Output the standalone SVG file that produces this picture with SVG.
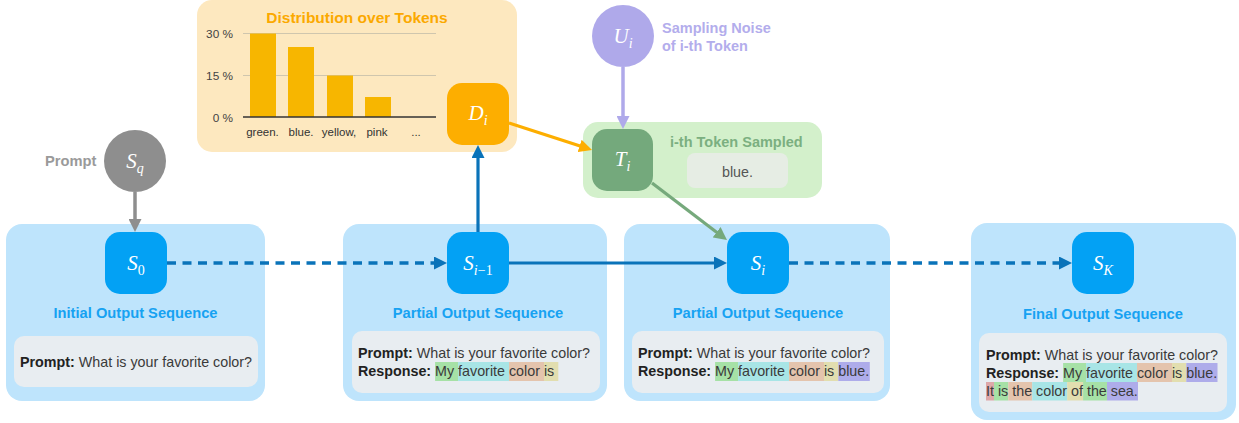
<svg xmlns="http://www.w3.org/2000/svg" width="1239" height="423" viewBox="0 0 1239 423">
<style>
text{font-family:"Liberation Sans",Arial,sans-serif}
.panel{fill:#BEE4FC}
.node{fill:#03A1F4}
.inner{fill:#E8EDF1}
.title{font-size:14.7px;font-weight:bold;fill:#17A2F2;text-anchor:middle}
.body{font-size:14.3px;fill:#3a3a3a}
.b{font-weight:bold;fill:#222}
.math{font-family:"Liberation Serif","Times New Roman",serif;font-style:italic;font-size:21px;fill:#fff;text-anchor:middle}
.sub{font-size:14px}
.up{font-style:normal}
.axis{font-size:11.8px;fill:#444}
.tick{font-size:11.5px;fill:#333;text-anchor:middle}
.bar{fill:#F7B600}
.grid{stroke:#CFC6AE;stroke-width:1.2}
.hg{fill:#A6E1A6}.hc{fill:#A8E5E6}.ht{fill:#E4C4AD}.hk{fill:#E2DEAF}.hp{fill:#AEACEA}.hr{fill:#DDA8A9}
</style>
<defs>
<marker id="ab" viewBox="0 0 13 13" refX="7" refY="6.5" markerWidth="13" markerHeight="13" markerUnits="userSpaceOnUse" orient="auto"><path d="M0,0L13,6.5L0,13z" fill="#0A73B9"/></marker>
<marker id="ag" viewBox="0 0 13 13" refX="7" refY="6.5" markerWidth="13" markerHeight="13" markerUnits="userSpaceOnUse" orient="auto"><path d="M0,0L13,6.5L0,13z" fill="#8E8E8E"/></marker>
<marker id="ap" viewBox="0 0 13 13" refX="7" refY="6.5" markerWidth="13" markerHeight="13" markerUnits="userSpaceOnUse" orient="auto"><path d="M0,0L13,6.5L0,13z" fill="#AFA9EA"/></marker>
<marker id="ao" viewBox="0 0 13 13" refX="7" refY="6.5" markerWidth="13" markerHeight="13" markerUnits="userSpaceOnUse" orient="auto"><path d="M0,0L13,6.5L0,13z" fill="#FDAE00"/></marker>
<marker id="agr" viewBox="0 0 13 13" refX="7" refY="6.5" markerWidth="13" markerHeight="13" markerUnits="userSpaceOnUse" orient="auto"><path d="M0,0L13,6.5L0,13z" fill="#76A97C"/></marker>
</defs>
<rect width="1239" height="423" fill="#fff"/>

<!-- distribution panel -->
<g id="distribution">
<rect x="197" y="0" width="320" height="152" rx="15" fill="#FDE8BF"/>
<text x="357" y="23" font-size="15.5" font-weight="bold" fill="#FBA900" text-anchor="middle">Distribution over Tokens</text>
<line class="grid" x1="243" y1="33.5" x2="436" y2="33.5"/>
<line class="grid" x1="243" y1="75.5" x2="436" y2="75.5"/>
<rect class="bar" x="250" y="33.5" width="26" height="83.5"/>
<rect class="bar" x="288" y="47" width="26" height="70"/>
<rect class="bar" x="327" y="75.5" width="26" height="41.5"/>
<rect class="bar" x="365" y="97" width="26" height="20"/>
<line x1="243" y1="117" x2="436" y2="117" stroke="#333" stroke-width="1.3"/>
<text class="axis" x="233" y="38" text-anchor="end">30 %</text>
<text class="axis" x="233" y="80" text-anchor="end">15 %</text>
<text class="axis" x="233" y="122" text-anchor="end">0 %</text>
<text class="tick" x="262.5" y="136">green.</text>
<text class="tick" x="301" y="136">blue.</text>
<text class="tick" x="339" y="136">yellow,</text>
<text class="tick" x="377" y="136">pink</text>
<text class="tick" x="416" y="136">...</text>
</g>

<!-- sampled token panel -->
<g id="sampled">
<rect x="583" y="122" width="239" height="76" rx="15" fill="#D3F0CB"/>
<text x="670" y="147" font-size="14.5" font-weight="bold" fill="#7BAF80">i-th Token Sampled</text>
<rect x="687" y="153" width="101" height="35" rx="8" fill="#E6EDE4"/>
<text x="737.5" y="177" font-size="14.3" fill="#555" text-anchor="middle">blue.</text>
</g>

<!-- blue panels -->
<g id="panel-initial">
<rect class="panel" x="6" y="224" width="259" height="177" rx="16"/>
<text class="title" x="135.5" y="318">Initial Output Sequence</text>
<rect class="inner" x="14" y="336" width="244" height="51" rx="10"/>
<text class="body" x="20" y="367"><tspan class="b">Prompt:</tspan> What is your favorite color?</text>
</g>
<g id="panel-partial-prev">
<rect class="panel" x="343" y="224" width="264" height="177" rx="16"/>
<text class="title" x="478" y="318">Partial Output Sequence</text>
<rect class="inner" x="352" y="331" width="248" height="62" rx="10"/>
<rect class="hg" x="435.1" y="362" width="23" height="19"/>
<rect class="hc" x="458.1" y="362" width="50.9" height="19"/>
<rect class="ht" x="509" y="362" width="35" height="19"/>
<rect class="hk" x="544" y="362" width="14.3" height="19"/>
<text class="body" x="358" y="358"><tspan class="b">Prompt:</tspan> What is your favorite color?</text>
<text class="body" x="358" y="376"><tspan class="b">Response:</tspan> My favorite color is</text>
</g>
<g id="panel-partial">
<rect class="panel" x="624" y="224" width="266" height="177" rx="16"/>
<text class="title" x="758" y="318">Partial Output Sequence</text>
<rect class="inner" x="632" y="331" width="252" height="62" rx="10"/>
<rect class="hg" x="715.1" y="362" width="23" height="19"/>
<rect class="hc" x="738.1" y="362" width="50.9" height="19"/>
<rect class="ht" x="789" y="362" width="35" height="19"/>
<rect class="hk" x="824" y="362" width="14.3" height="19"/>
<rect class="hp" x="838.3" y="362" width="31.5" height="19"/>
<text class="body" x="638" y="358"><tspan class="b">Prompt:</tspan> What is your favorite color?</text>
<text class="body" x="638" y="376"><tspan class="b">Response:</tspan> My favorite color is blue.</text>
</g>
<g id="panel-final">
<rect class="panel" x="971" y="223" width="265" height="197" rx="16"/>
<text class="title" x="1103" y="319">Final Output Sequence</text>
<rect class="inner" x="979" y="333" width="248" height="79" rx="10"/>
<rect class="hg" x="1063.1" y="363" width="23" height="19"/>
<rect class="hc" x="1086.1" y="363" width="50.9" height="19"/>
<rect class="ht" x="1137" y="363" width="35" height="19"/>
<rect class="hk" x="1172" y="363" width="14.3" height="19"/>
<rect class="hp" x="1186.3" y="363" width="31.2" height="19"/>
<rect class="hr" x="986" y="382" width="8" height="18.5"/>
<rect class="hg" x="994" y="382" width="14.3" height="18.5"/>
<rect class="ht" x="1008.3" y="382" width="23.9" height="18.5"/>
<rect class="hc" x="1032.2" y="382" width="35" height="18.5"/>
<rect class="hk" x="1067.2" y="382" width="15.9" height="18.5"/>
<rect class="hg" x="1083.1" y="382" width="23.9" height="18.5"/>
<rect class="hp" x="1107" y="382" width="31" height="18.5"/>
<text class="body" x="986" y="360"><tspan class="b">Prompt:</tspan> What is your favorite color?</text>
<text class="body" x="986" y="378"><tspan class="b">Response:</tspan> My favorite color is blue.</text>
<text class="body" x="986" y="396">It is the color of the sea.</text>
</g>

<!-- connectors -->
<g id="connectors" fill="none">
<line x1="135" y1="192" x2="135" y2="226" stroke="#8E8E8E" stroke-width="3.5" marker-end="url(#ag)"/>
<line x1="623" y1="67" x2="623" y2="123" stroke="#AFA9EA" stroke-width="3.5" marker-end="url(#ap)"/>
<line x1="167" y1="263" x2="441" y2="263" stroke="#0A73B9" stroke-width="3.5" stroke-dasharray="9 6.5" marker-end="url(#ab)"/>
<line x1="509" y1="263" x2="721" y2="263" stroke="#0A73B9" stroke-width="3.2" marker-end="url(#ab)"/>
<line x1="789" y1="263" x2="1066" y2="263" stroke="#0A73B9" stroke-width="3.5" stroke-dasharray="9 6.5" marker-end="url(#ab)"/>
<line x1="478" y1="232" x2="478" y2="151" stroke="#0A73B9" stroke-width="3.2" marker-end="url(#ab)"/>
<line x1="509" y1="123" x2="586.3" y2="148.1" stroke="#FDAE00" stroke-width="3.2" marker-end="url(#ao)"/>
<line x1="652" y1="183" x2="722.2" y2="236.4" stroke="#76A97C" stroke-width="3.2" marker-end="url(#agr)"/>
</g>

<!-- nodes -->
<g id="node-Sq">
<circle cx="135" cy="161" r="31" fill="#8E8E8E"/>
<text x="45" y="166" font-size="14.7" font-weight="bold" fill="#9A9A9A">Prompt</text>
<text class="math" x="135" y="168">S<tspan class="sub" dy="5">q</tspan></text>
</g>
<g id="node-Ui">
<circle cx="623" cy="36" r="31" fill="#AFA9EA"/>
<text class="math" x="623" y="43">U<tspan class="sub" dy="5">i</tspan></text>
<text x="662" y="33" font-size="14.5" font-weight="bold" fill="#B3ADEC">Sampling Noise</text>
<text x="662" y="51" font-size="14.5" font-weight="bold" fill="#B3ADEC">of i-th Token</text>
</g>
<g id="node-Di">
<rect x="447" y="83" width="62" height="62" rx="15" fill="#FDAE00"/>
<text class="math" x="478" y="120">D<tspan class="sub" dy="5">i</tspan></text>
</g>
<g id="node-Ti">
<rect x="592" y="129" width="61" height="62" rx="15" fill="#74A97C"/>
<text class="math" x="622.5" y="166">T<tspan class="sub" dy="5">i</tspan></text>
</g>
<g id="node-S0">
<rect class="node" x="105" y="232" width="62" height="62" rx="15"/>
<text class="math" x="136" y="270">S<tspan class="sub up" dy="5">0</tspan></text>
</g>
<g id="node-Si-1">
<rect class="node" x="447" y="232" width="62" height="62" rx="15"/>
<text class="math" x="478" y="270">S<tspan class="sub" dy="5">i</tspan><tspan class="sub up">−1</tspan></text>
</g>
<g id="node-Si">
<rect class="node" x="727" y="232" width="62" height="62" rx="15"/>
<text class="math" x="758" y="270">S<tspan class="sub" dy="5">i</tspan></text>
</g>
<g id="node-SK">
<rect class="node" x="1072" y="232" width="62" height="62" rx="15"/>
<text class="math" x="1103" y="270">S<tspan class="sub" dy="5">K</tspan></text>
</g>
</svg>
